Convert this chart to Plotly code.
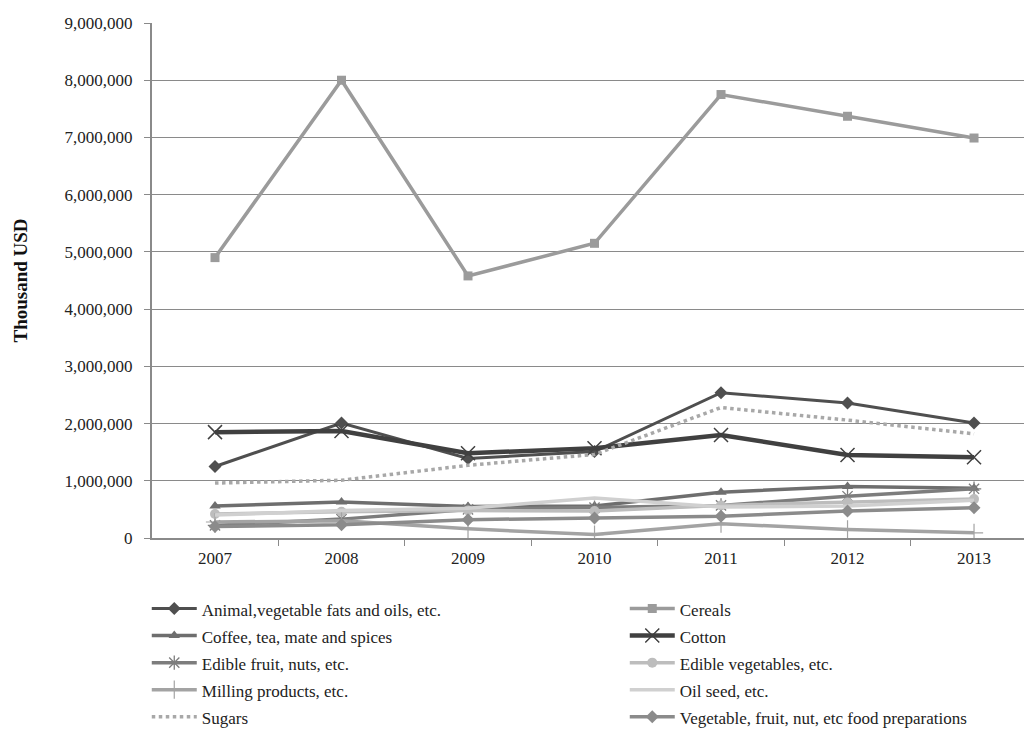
import plotly.graph_objects as go

years = ["2007", "2008", "2009", "2010", "2011", "2012", "2013"]

animal_fats = [1250000, 2010000, 1390000, 1510000, 2540000, 2360000, 2010000]
cereals = [4900000, 8000000, 4580000, 5150000, 7750000, 7370000, 6990000]
coffee = [560000, 630000, 550000, 560000, 800000, 900000, 870000]
cotton = [1850000, 1870000, 1480000, 1570000, 1800000, 1450000, 1410000]
edible_fruit = [220000, 330000, 500000, 530000, 570000, 730000, 860000]
edible_veg = [420000, 460000, 480000, 470000, 570000, 620000, 680000]
milling = [280000, 300000, 160000, 60000, 250000, 150000, 90000]
oil_seed = [400000, 480000, 520000, 700000, 540000, 560000, 660000]
sugars = [960000, 1010000, 1270000, 1460000, 2280000, 2060000, 1820000]
veg_prep = [200000, 230000, 320000, 350000, 380000, 470000, 530000]

series_names = [
    "Animal,vegetable fats and oils, etc.",
    "Cereals",
    "Coffee, tea, mate and spices",
    "Cotton",
    "Edible fruit, nuts, etc.",
    "Edible vegetables, etc.",
    "Milling products, etc.",
    "Oil seed, etc.",
    "Sugars",
    "Vegetable, fruit, nut, etc food preparations",
]

series_values = [animal_fats, cereals, coffee, cotton, edible_fruit,
                 edible_veg, milling, oil_seed, sugars, veg_prep]

# (line colour, line width, dash, marker symbol, marker size, marker line width)
styles = [
    ("#4f4f4f", 3, "solid", "diamond", 10, 0),
    ("#9b9b9b", 3.5, "solid", "square", 9, 0),
    ("#6e6e6e", 3.5, "solid", "triangle-up", 10, 0),
    ("#404040", 4.5, "solid", "x-thin-open", 14, 1.5),
    ("#7d7d7d", 3.5, "solid", "asterisk-open", 12, 1.3),
    ("#bdbdbd", 3.5, "solid", "circle", 10, 0),
    ("#a3a3a3", 3.5, "solid", "cross-thin-open", 13, 1.2),
    ("#d0d0d0", 3.5, "solid", None, 0, 0),
    ("#a8a8a8", 3.5, "dot", None, 0, 0),
    ("#8b8b8b", 3.5, "solid", "diamond", 10, 0),
]

FONT = "Liberation Serif, Times New Roman, serif"

fig = go.Figure()
for name, vals, (col, lw, dash, sym, msz, mlw) in zip(series_names, series_values, styles):
    mode = "lines+markers" if sym else "lines"
    marker = dict(symbol=sym, size=msz, color=col, line=dict(width=mlw, color=col)) if sym else None
    fig.add_trace(go.Scatter(
        x=years, y=vals, name='<span style="font-size:17px">' + name + "</span>",
        mode=mode,
        line=dict(color=col, width=lw, dash=dash),
        marker=marker,
    ))

fig.update_layout(
    width=1024, height=729,
    margin=dict(l=152, r=0, t=23, b=191, autoexpand=False),
    paper_bgcolor="white", plot_bgcolor="white",
    font=dict(family=FONT, size=17, color="#222222"),
    showlegend=True,
    legend=dict(
        orientation="h",
        x=-0.006, xanchor="left",
        y=-0.101, yanchor="top",
        font=dict(family=FONT, size=18.5, color="#222222"),
        itemwidth=45,
        entrywidth=418,
        bgcolor="rgba(0,0,0,0)",
    ),
    xaxis=dict(
        type="category",
        range=[-0.498, 6.395],
        showgrid=False,
        showline=True, linecolor="#8a8a8a", linewidth=2,
        ticks="outside", tickson="boundaries", ticklen=6, tickcolor="#8a8a8a", tickwidth=1,
        ticklabelstandoff=4,
        tickfont=dict(family=FONT, size=17, color="#222222"),
        zeroline=False,
    ),
    yaxis=dict(
        range=[0, 9000000],
        dtick=1000000,
        tickformat=",",
        showgrid=True, gridcolor="#8a8a8a", gridwidth=1,
        showline=True, linecolor="#8a8a8a", linewidth=2,
        ticks="outside", ticklen=6, tickcolor="#8a8a8a", tickwidth=1,
        ticklabelstandoff=8,
        tickfont=dict(family=FONT, size=17, color="#222222"),
        zeroline=False,
        title=dict(text="<b>Thousand USD</b>", font=dict(family=FONT, size=19, color="#111111"),
                   standoff=32),
    ),
)

fig.write_html("out.html")
